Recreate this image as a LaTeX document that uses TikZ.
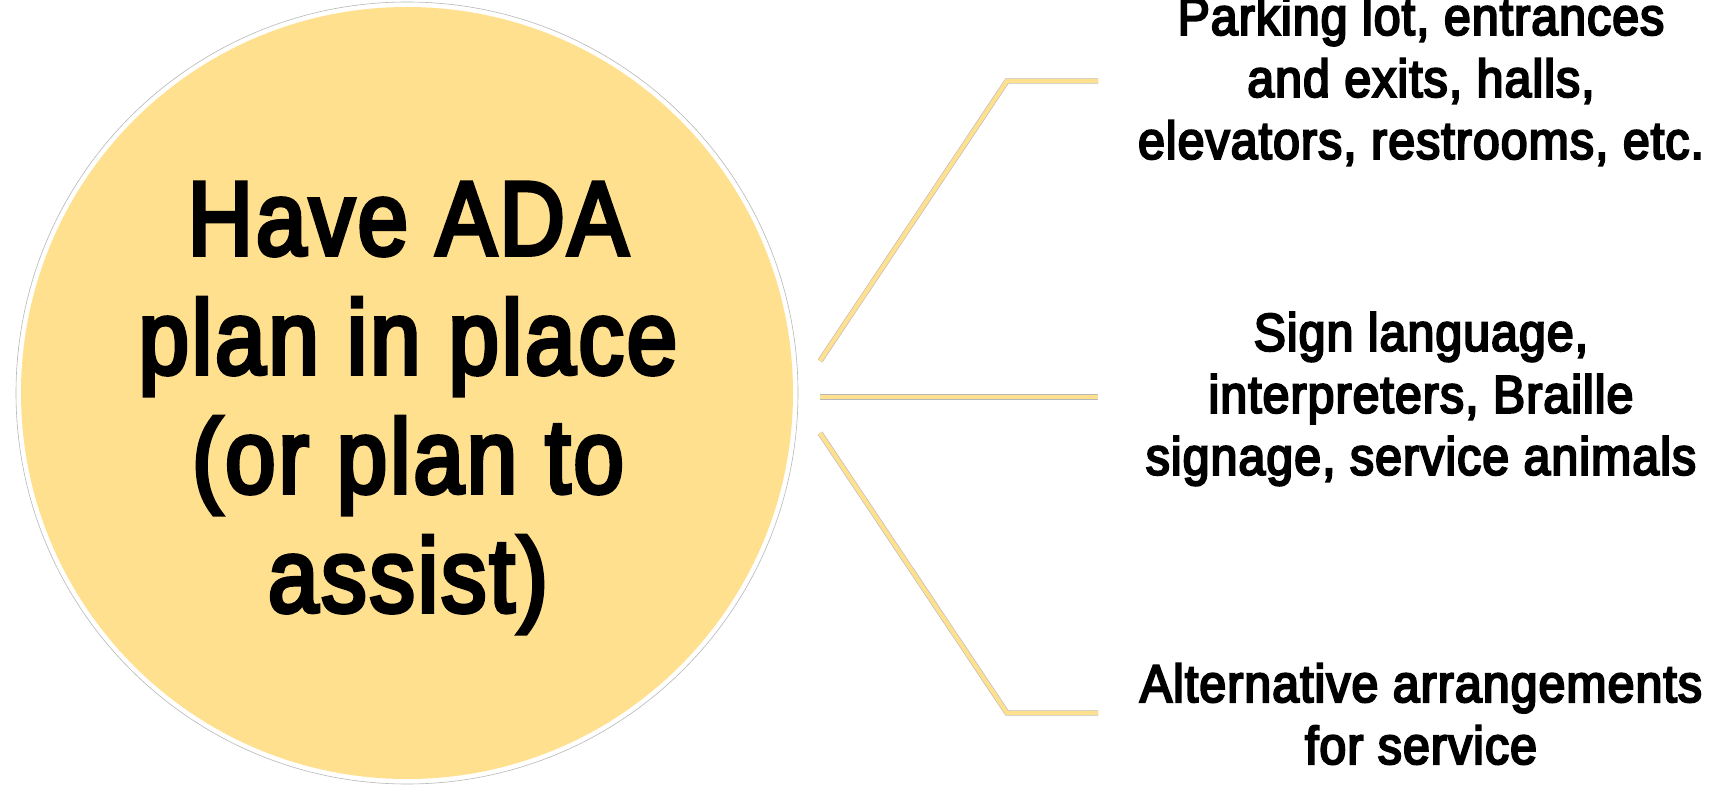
\documentclass[tikz,border=0pt]{standalone}
\usepackage{fontspec}
\setmainfont{Liberation Sans}[FakeStretch=0.91, FakeBold=4, LetterSpace=2]
\newfontfamily\hubfont{Liberation Sans}[FakeStretch=0.86, FakeBold=4, LetterSpace=3]
\definecolor{adayellow}{HTML}{FFE08E}
\definecolor{rimgray}{HTML}{B8B8B8}
\tikzset{
  hubcircle/.style={circle, fill=adayellow, draw=none, minimum size=386pt, inner sep=0},
  rim/.style={draw=rimgray, line width=0.3pt},
  hubtext/.style={align=center, inner sep=0, font=\hubfont\fontsize{52.5}{59.5}\selectfont},
  itemtext/.style={align=center, inner sep=0, font=\fontsize{26.5}{31}\selectfont},
  branch/.style={draw=rimgray, line width=0.3pt, double=adayellow, double distance=2.1pt, line join=miter}
}
\begin{document}
\begin{tikzpicture}[x=0.5pt, y=-0.5pt]
\useasboundingbox[fill=white] (0,0) rectangle (1714,786);
% hub
\draw[rim] (407,393) circle[radius=195.5pt];
\node[hubcircle] (hub) at (407,393) {};
\node[hubtext] (hublabel) at (408,408) {Have ADA\\plan in place\\(or plan to\\assist)};
% items
\node[itemtext] (t1) at (1421,81) {Parking lot, entrances\\and exits, halls,\\elevators, restrooms, etc.};
\node[itemtext] (t2) at (1421,399) {Sign language,\\interpreters, Braille\\signage, service animals};
\node[itemtext] (t3) at (1421,714) {Alternative arrangements\\for service};
% connector coordinates
\coordinate (s1) at (820,361);
\coordinate (k1) at (1007,81);
\coordinate (e1) at (1098,81);
\coordinate (s2) at (820,397);
\coordinate (e2) at (1098,397);
\coordinate (s3) at (820,433);
\coordinate (k3) at (1007,713);
\coordinate (e3) at (1098,713);
\draw[branch] (s1) -- (k1) -- (e1);
\draw[branch] (s2) -- (e2);
\draw[branch] (s3) -- (k3) -- (e3);
\end{tikzpicture}
\end{document}
